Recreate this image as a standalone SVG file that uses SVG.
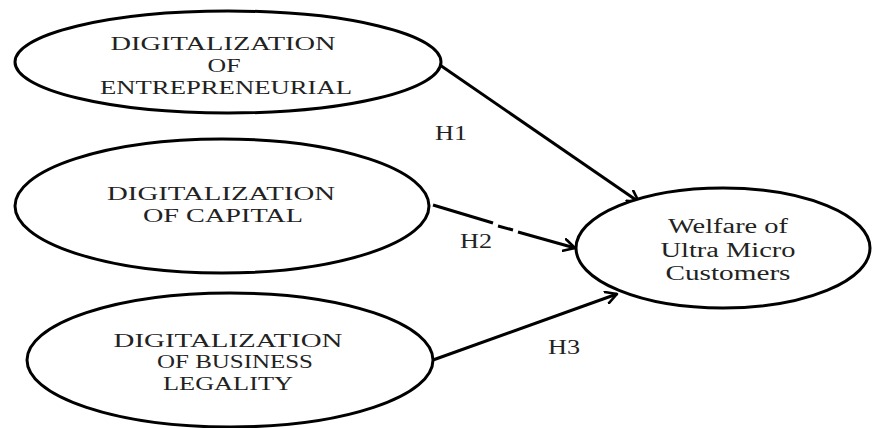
<svg xmlns="http://www.w3.org/2000/svg" width="872" height="428" viewBox="0 0 872 428">
<style>
.node ellipse{fill:#fff;stroke:#000;stroke-width:3}
.node text,.lbl{font-family:"Liberation Serif","Times New Roman",serif;font-size:19px;fill:#222;text-anchor:middle}
.lbl{font-size:20px}
#welfare text{font-size:20px}
.edge{stroke:#000;stroke-width:3;fill:none}
</style>
<defs>
<marker id="arr" viewBox="0 0 14 14" refX="12" refY="7" markerWidth="14" markerHeight="14" markerUnits="userSpaceOnUse" orient="auto">
<path d="M1,1 L12,7 L1,13" fill="none" stroke="#000" stroke-width="2.6" stroke-linecap="round" stroke-linejoin="round"/>
</marker>
</defs>
<rect width="872" height="428" fill="#fff"/>
<g id="connectors">
<line class="edge" x1="437" y1="63" x2="639" y2="202" marker-end="url(#arr)"/>
<line class="edge" x1="433" y1="205" x2="493" y2="223"/>
<line class="edge" x1="498" y1="226" x2="513" y2="230"/>
<line class="edge" x1="518" y1="232" x2="575" y2="248" marker-end="url(#arr)"/>
<line class="edge" x1="433" y1="360" x2="617" y2="294" marker-end="url(#arr)"/>
<text class="lbl" x="451" y="140" textLength="32" lengthAdjust="spacingAndGlyphs">H1</text>
<text class="lbl" x="476" y="248" textLength="32" lengthAdjust="spacingAndGlyphs">H2</text>
<text class="lbl" x="564" y="354" textLength="32" lengthAdjust="spacingAndGlyphs">H3</text>
</g>
<g id="entrepreneurial" class="node">
<ellipse cx="228" cy="62" rx="213" ry="51"/>
<text x="223" y="50" textLength="225" lengthAdjust="spacingAndGlyphs">DIGITALIZATION</text>
<text x="224" y="72" textLength="33" lengthAdjust="spacingAndGlyphs">OF</text>
<text x="226" y="94" textLength="252" lengthAdjust="spacingAndGlyphs">ENTREPRENEURIAL</text>
</g>
<g id="capital" class="node">
<ellipse cx="222" cy="206" rx="207" ry="67"/>
<text x="221" y="200" textLength="228" lengthAdjust="spacingAndGlyphs">DIGITALIZATION</text>
<text x="223" y="222" textLength="160" lengthAdjust="spacingAndGlyphs">OF CAPITAL</text>
</g>
<g id="legality" class="node">
<ellipse cx="230" cy="360" rx="203" ry="67"/>
<text x="228" y="347" textLength="229" lengthAdjust="spacingAndGlyphs">DIGITALIZATION</text>
<text x="235" y="368" textLength="156" lengthAdjust="spacingAndGlyphs">OF BUSINESS</text>
<text x="228" y="390" textLength="130" lengthAdjust="spacingAndGlyphs">LEGALITY</text>
</g>
<g id="welfare" class="node">
<ellipse cx="723" cy="248" rx="147" ry="60"/>
<text x="728" y="233" textLength="120" lengthAdjust="spacingAndGlyphs">Welfare of</text>
<text x="728" y="257" textLength="135" lengthAdjust="spacingAndGlyphs">Ultra Micro</text>
<text x="728" y="280" textLength="125" lengthAdjust="spacingAndGlyphs">Customers</text>
</g>
</svg>
